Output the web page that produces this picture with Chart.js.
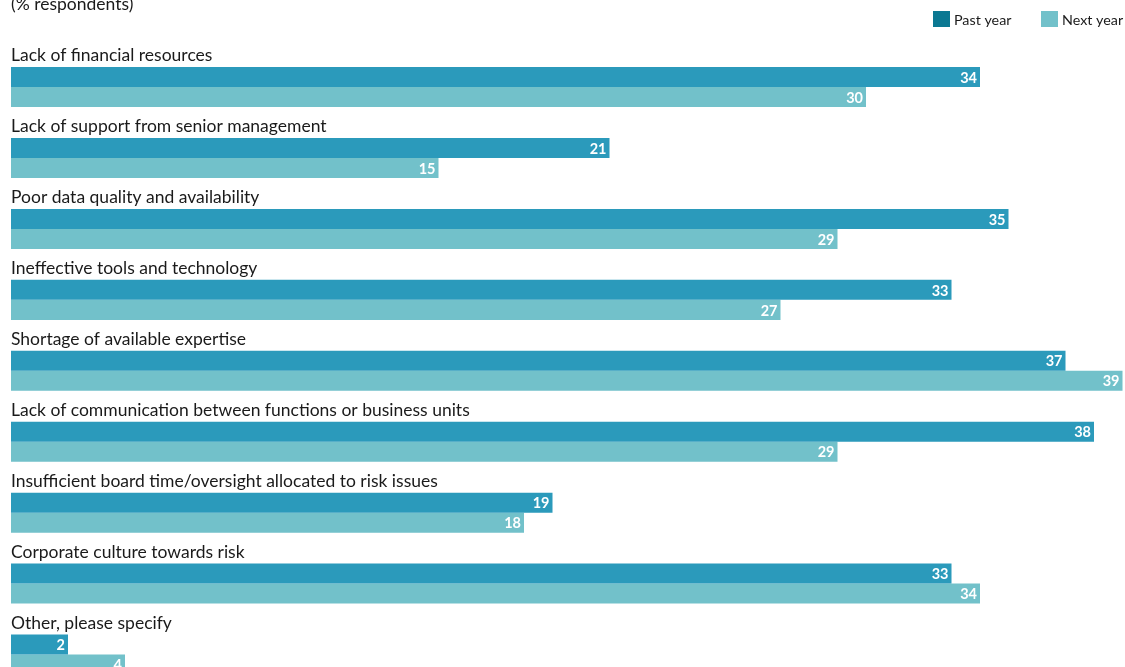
<!DOCTYPE html>
<html>
<head>
<meta charset="utf-8">
<script src="https://cdn.jsdelivr.net/npm/chart.js@4/dist/chart.umd.min.js"></script>
<style>
  html,body{margin:0;padding:0;background:#fff;overflow:hidden;}
  #wrap{position:relative;width:1125px;height:690px;}
</style>
</head>
<body>
<div id="wrap"><canvas id="chart"></canvas></div>
<script>
const categories=[
  "Lack of financial resources",
  "Lack of support from senior management",
  "Poor data quality and availability",
  "Ineffective tools and technology",
  "Shortage of available expertise",
  "Lack of communication between functions or business units",
  "Insufficient board time/oversight allocated to risk issues",
  "Corporate culture towards risk",
  "Other, please specify"
];
const pastYear=[34,21,35,33,37,38,19,33,2];
const nextYear=[30,15,29,27,39,29,18,34,4];
const seriesNames=["Past year","Next year"];
const title="(% respondents)";

const FONT='Lato, "Noto Sans", sans-serif';

// draws the heading, legend, category labels and the numbers in the bars
const decorations={
  id:'decorations',
  afterDatasetsDraw(chart){
    const ctx=chart.ctx;
    ctx.save();
    // title, cut at the top like the original
    ctx.fillStyle='#1a1a1a';
    ctx.font='17.5px '+FONT;
    ctx.textAlign='left';
    ctx.textBaseline='alphabetic';
    ctx.fillText(title,11,10);

    // legend
    const legendItems=[
      {x:933,color:'#0b7892',text:seriesNames[0]},
      {x:1041,color:'#72c1ca',text:seriesNames[1]}
    ];
    ctx.font='14.3px '+FONT;
    legendItems.forEach(it=>{
      ctx.fillStyle=it.color;
      ctx.fillRect(it.x,11,17,16);
      ctx.fillStyle='#1a1a1a';
      ctx.fillText(it.text,it.x+21,24.5);
    });

    // category labels above each pair of bars
    const first=chart.getDatasetMeta(0).data;
    ctx.font='17.5px '+FONT;
    first.forEach((bar,i)=>{
      const top=bar.y-bar.height/2;
      ctx.fillStyle='#1a1a1a';
      ctx.fillText(categories[i],11,top-6);
    });

    // values inside the bar ends
    ctx.font='bold 14.5px '+FONT;
    ctx.textAlign='right';
    ctx.textBaseline='middle';
    ctx.fillStyle='#fff';
    chart.data.datasets.forEach((ds,di)=>{
      chart.getDatasetMeta(di).data.forEach((bar,i)=>{
        ctx.fillText(String(ds.data[i]),bar.x-3,bar.y+1);
      });
    });
    ctx.restore();
  }
};

new Chart(document.getElementById('chart'),{
  type:'bar',
  data:{
    labels:categories,
    datasets:[
      {label:seriesNames[0],data:pastYear,backgroundColor:'#2b9abb'},
      {label:seriesNames[1],data:nextYear,backgroundColor:'#72c1ca'}
    ]
  },
  options:{
    indexAxis:'y',
    responsive:true,
    maintainAspectRatio:false,
    animation:false,
    layout:{padding:{left:11,right:0,top:51.6,bottom:0}},
    datasets:{bar:{categoryPercentage:40/70.875,barPercentage:1,borderWidth:0}},
    scales:{
      x:{display:false,min:0,max:1114/28.5},
      y:{display:false}
    },
    plugins:{
      legend:{display:false},
      tooltip:{enabled:false}
    }
  },
  plugins:[decorations]
});
</script>
</body>
</html>
